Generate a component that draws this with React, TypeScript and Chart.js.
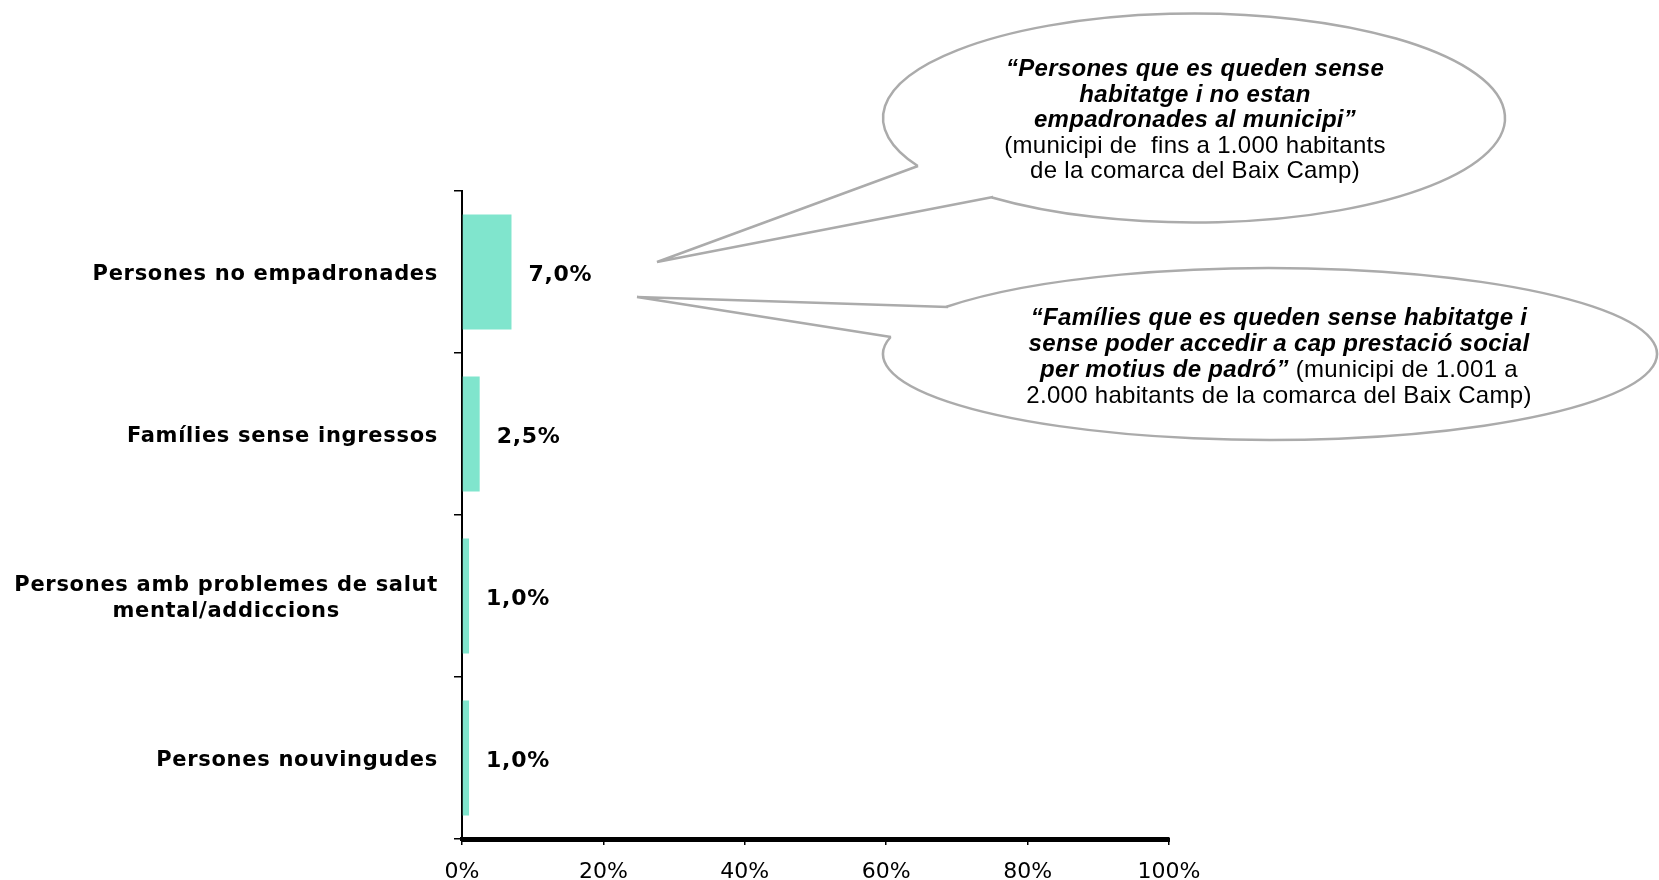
import React, { useEffect, useRef } from "react";
import { Chart, registerables } from "chart.js";

Chart.register(...registerables);

// ---------- data ----------
const categories: string[][] = [
  ["Persones no empadronades"],
  ["Famílies sense ingressos"],
  ["Persones amb problemes de salut", "mental/addiccions"],
  ["Persones nouvingudes"],
];
const values: number[] = [7.0, 2.5, 1.0, 1.0];
const valueLabels: string[] = ["7,0%", "2,5%", "1,0%", "1,0%"];
const xTickValues: number[] = [0, 20, 40, 60, 80, 100];

type Seg = { t: string; s: "bi" | "r" };
const bubble1Lines: Seg[][] = [
  [{ t: "\u201CPersones que es queden sense", s: "bi" }],
  [{ t: "habitatge i no estan", s: "bi" }],
  [{ t: "empadronades al municipi\u201D", s: "bi" }],
  [{ t: "(municipi de  fins a 1.000 habitants", s: "r" }],
  [{ t: "de la comarca del Baix Camp)", s: "r" }],
];
const bubble2Lines: Seg[][] = [
  [{ t: "\u201CFamílies que es queden sense habitatge i", s: "bi" }],
  [{ t: "sense poder accedir a cap prestació social", s: "bi" }],
  [
    { t: "per motius de padró\u201D", s: "bi" },
    { t: " (municipi de 1.001 a", s: "r" },
  ],
  [{ t: "2.000 habitants de la comarca del Baix Camp)", s: "r" }],
];

// ---------- styles / annotation geometry ----------
const BAR_COLOR = "#80E5CD";
const LABEL_FONT = 'bold 21px "DejaVu Sans"';
const VALUE_FONT = 'bold 22px "DejaVu Sans"';
const LABEL_SPACING = "0.7px";
const BI_FONT = 'italic bold 24px "Liberation Sans", Arial, sans-serif';
const R_FONT = '24px "Liberation Sans", Arial, sans-serif';

const bubbles = [
  {
    cx: 1194, cy: 118, rx: 311, ry: 104.5,
    a: [918, 166], tip: [657, 262], c: [993, 197],
    textX: 1195, textY: 69.5, lineH: 25.5, lines: bubble1Lines,
  },
  {
    cx: 1270, cy: 354, rx: 387, ry: 86,
    a: [948, 307], tip: [637, 297], c: [891, 337],
    textX: 1279, textY: 318, lineH: 26, lines: bubble2Lines,
  },
];

function drawBubble(ctx: CanvasRenderingContext2D, b: any) {
  const { cx, cy, rx, ry, a, tip, c } = b;
  const ta = Math.atan2((a[1] - cy) / ry, (a[0] - cx) / rx);
  const tc = Math.atan2((c[1] - cy) / ry, (c[0] - cx) / rx);
  ctx.save();
  ctx.beginPath();
  ctx.moveTo(a[0], a[1]);
  ctx.lineTo(tip[0], tip[1]);
  ctx.lineTo(c[0], c[1]);
  ctx.ellipse(cx, cy, rx, ry, 0, tc, ta, true);
  ctx.closePath();
  ctx.fillStyle = "#ffffff";
  ctx.fill();
  ctx.strokeStyle = "#ababab";
  ctx.lineWidth = 2.5;
  ctx.lineJoin = "miter";
  ctx.stroke();

  ctx.fillStyle = "#000";
  ctx.textBaseline = "middle";
  ctx.textAlign = "left";
  (ctx as any).letterSpacing = "0.3px";
  b.lines.forEach((segs: Seg[], i: number) => {
    let total = 0;
    const widths = segs.map((sg) => {
      ctx.font = sg.s === "bi" ? BI_FONT : R_FONT;
      const w = ctx.measureText(sg.t).width;
      total += w;
      return w;
    });
    let x = b.textX - total / 2;
    const y = b.textY + i * b.lineH;
    segs.forEach((sg, k) => {
      ctx.font = sg.s === "bi" ? BI_FONT : R_FONT;
      ctx.fillText(sg.t, x, y);
      x += widths[k];
    });
  });
  ctx.restore();
}

const annotationsPlugin = {
  id: "annotationsPlugin",
  afterDraw(chart: any) {
    const ctx: CanvasRenderingContext2D = chart.ctx;
    const yScale = chart.scales.y;
    const area = chart.chartArea;

    // heavy x-axis baseline
    ctx.save();
    ctx.strokeStyle = "#000";
    ctx.lineWidth = 4;
    ctx.beginPath();
    ctx.moveTo(area.left - 1, area.bottom + 1);
    ctx.lineTo(area.right + 1, area.bottom + 1);
    ctx.stroke();
    ctx.restore();

    // category labels (right-aligned block, lines centered within block)
    ctx.save();
    ctx.font = LABEL_FONT;
    (ctx as any).letterSpacing = LABEL_SPACING;
    ctx.fillStyle = "#000";
    ctx.textBaseline = "middle";
    ctx.textAlign = "center";
    const rightEdge = area.left - 24;
    categories.forEach((lines, i) => {
      const yc = yScale.getPixelForValue(i) + 3;
      const maxW = Math.max(...lines.map((l) => ctx.measureText(l).width));
      const xc = rightEdge - maxW / 2;
      const lh = 26;
      lines.forEach((l, k) => {
        const y = yc + (k - (lines.length - 1) / 2) * lh;
        ctx.fillText(l, xc, y);
      });
    });

    // value labels
    ctx.font = VALUE_FONT;
    ctx.textAlign = "left";
    const meta = chart.getDatasetMeta(0);
    meta.data.forEach((el: any, i: number) => {
      ctx.fillText(valueLabels[i], el.x + 17, el.y + 3);
    });
    ctx.restore();

    // speech bubbles
    bubbles.forEach((b) => drawBubble(ctx, b));
  },
};

export default function App() {
  const ref = useRef<HTMLCanvasElement | null>(null);

  useEffect(() => {
    if (!ref.current) return;
    const chart = new Chart(ref.current, {
      type: "bar",
      data: {
        labels: categories.map((c) => c.join(" ")),
        datasets: [
          {
            data: values,
            backgroundColor: BAR_COLOR,
            borderWidth: 0,
            barPercentage: 0.71,
            categoryPercentage: 1.0,
          },
        ],
      },
      options: {
        indexAxis: "y",
        responsive: false,
        animation: false,
        layout: { padding: { left: 0, top: 191, right: 490, bottom: 0 } },
        plugins: {
          legend: { display: false },
          tooltip: { enabled: false },
        },
        scales: {
          x: {
            type: "linear",
            position: "bottom",
            min: 0,
            max: 100,
            afterBuildTicks: (s: any) => {
              s.ticks = xTickValues.map((v) => ({ value: v }));
            },
            ticks: {
              callback: (v: any) => v + "%",
              font: { family: "DejaVu Sans", size: 22 },
              color: "#000",
              padding: 14,
              maxRotation: 0,
              autoSkip: false,
            },
            grid: {
              drawOnChartArea: false,
              drawTicks: true,
              tickLength: 6,
              color: "#000",
              lineWidth: 1.5,
            },
            border: { display: true, color: "#000", width: 4 },
            afterFit: (s: any) => {
              s.height = 41;
            },
          },
          y: {
            type: "category",
            offset: true,
            ticks: { display: false },
            grid: {
              offset: true,
              drawOnChartArea: false,
              drawTicks: true,
              tickLength: 8,
              color: "#000",
              lineWidth: 1.5,
            },
            border: { display: true, color: "#000", width: 2 },
            afterFit: (s: any) => {
              s.width = 462;
            },
          },
        },
      },
      plugins: [annotationsPlugin],
    });
    return () => chart.destroy();
  }, []);

  return (
    <div
      style={{
        position: "fixed",
        left: 0,
        top: 0,
        width: 1659,
        height: 880,
        background: "#fff",
      }}
    >
      <canvas ref={ref} width={1659} height={880} style={{ display: "block" }} />
    </div>
  );
}
